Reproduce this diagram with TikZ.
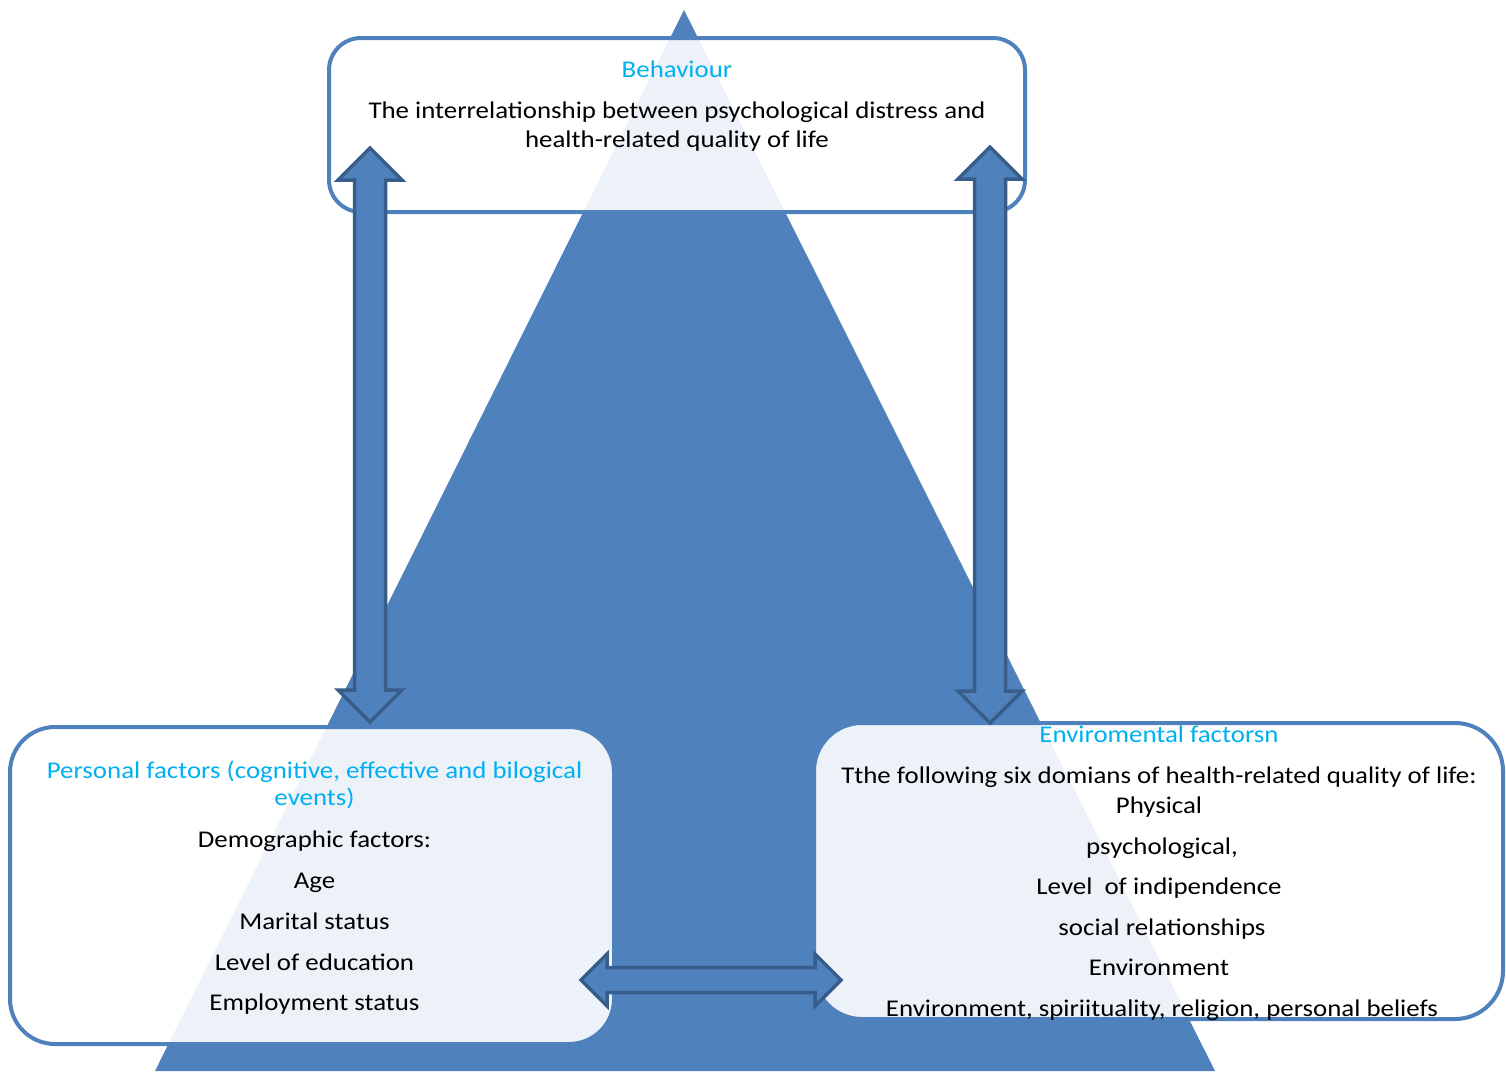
\documentclass[tikz,border=0pt]{standalone}
\usepackage{fontspec}
\setmainfont{Carlito}[FakeStretch=1.12]
\definecolor{triblue}{HTML}{4F81BD}
\definecolor{arrowline}{HTML}{385D8A}
\definecolor{titlecyan}{HTML}{00B0F0}
\begin{document}
\begin{tikzpicture}[x=1pt,y=-1pt,
  boxstyle/.style={draw=triblue, line width=4pt, fill=white, fill opacity=0.9, rounded corners=#1, inner sep=0pt},
  blockarrow/.style={draw=arrowline, fill=triblue, line width=3.5pt, line join=miter},
  txt/.style={font=\fontsize{24}{29}\selectfont, anchor=base, inner sep=0pt, text=black},
  ttl/.style={txt, text=titlecyan}]
\useasboundingbox (0,0) rectangle (1506,1071);
% background triangle
\fill[triblue] (684,10) -- (1215,1071) -- (155,1071) -- cycle;
% boxes
\node[boxstyle=32pt, minimum width=696pt, minimum height=174pt] (behbox) at (677,125) {};
\node[boxstyle=45pt, minimum width=604pt, minimum height=317pt] (perbox) at (312,885.5) {};
\node[boxstyle=48pt, minimum width=689pt, minimum height=296pt] (envbox) at (1158.5,871) {};
% block arrows
\draw[blockarrow] (370,148) -- (402,180) -- (385.5,180) -- (385.5,690) -- (402,690) -- (370,722)
  -- (338,690) -- (354.5,690) -- (354.5,180) -- (338,180) -- cycle;
\draw[blockarrow] (990,147) -- (1022,179) -- (1005.5,179) -- (1005.5,691) -- (1022,691) -- (990,723)
  -- (958,691) -- (974.5,691) -- (974.5,179) -- (958,179) -- cycle;
\draw[blockarrow] (581,980) -- (607,954) -- (607,967.5) -- (815,967.5) -- (815,954) -- (841,980)
  -- (815,1006) -- (815,992.5) -- (607,992.5) -- (607,1006) -- cycle;
% texts: top box
\node[ttl] (behtitle) at (677,77) {Behaviour};
\node[txt] (beh1) at (677,118) {The interrelationship between psychological distress and};
\node[txt] (beh2) at (677,147) {health-related quality of life};
% texts: personal factors
\node[ttl] (pertitle1) at (314.5,778) {Personal factors (cognitive, effective and bilogical};
\node[ttl] (pertitle2) at (314.5,805) {events)};
\node[txt] (per1) at (314.5,847) {Demographic factors:};
\node[txt] (per2) at (314.5,888) {Age};
\node[txt] (per3) at (314.5,929) {Marital status};
\node[txt] (per4) at (314.5,970) {Level of education};
\node[txt] (per5) at (314.5,1010) {Employment status};
% texts: environmental factors
\node[ttl] (envtitle) at (1159,742) {Enviromental factorsn};
\node[txt] (env0) at (1159,783) {Tthe following six domians of health-related quality of life:};
\node[txt] (env1) at (1159,813) {Physical};
\node[txt] (env2) at (1162,854) {psychological,};
\node[txt] (env3) at (1159,894) {Level\ \ of indipendence};
\node[txt] (env4) at (1162,935) {social relationships};
\node[txt] (env5) at (1159,975) {Environment};
\node[txt] (env6) at (1162,1016) {Environment, spiriituality, religion, personal beliefs};
\end{tikzpicture}
\end{document}
